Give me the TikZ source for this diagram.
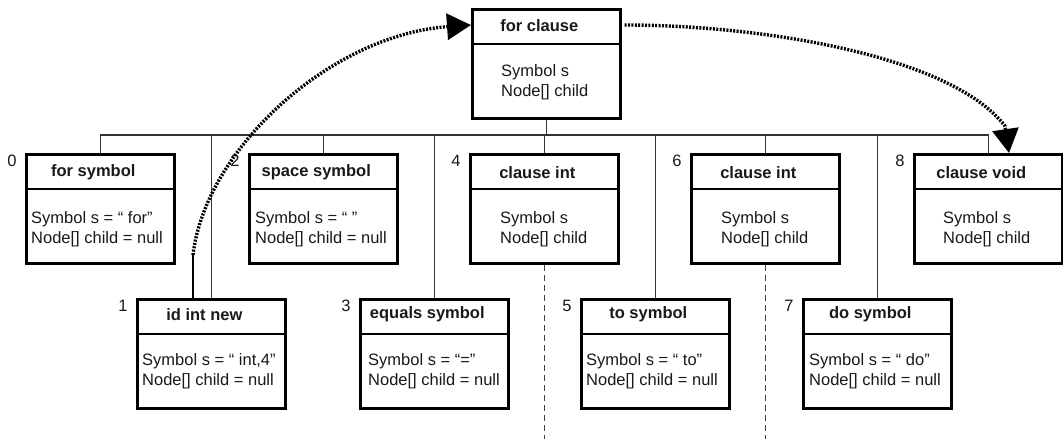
\documentclass[tikz,border=0pt]{standalone}
\usepackage{fontspec}
\setmainfont{Liberation Sans}
\usetikzlibrary{arrows.meta,calc}

% A class box: name, top-left corner, title, body lines, body inset, index,
% vertical nudge of the texts
\newcommand\ClassBox[7]{%
  \node[umlbox] (#1) at (#2) {};
  \draw[divider] ($(#1.north west)+(0,36)$) -- ($(#1.north east)+(0,36)$);
  \node[title] (#1-title) at ($(#1.north)+(-7,17.5+#7)$) {#3};
  \node[body] (#1-body) at ($(#1.north west)+(#5,74+#7)$) {#4};
  \node[idx] (#1-idx) at ($(#1.north west)+(-13,8)$) {#6};%
}

\begin{document}
\begin{tikzpicture}[x=1pt,y=-1pt,
  umlbox/.style={draw=black, line width=2.6pt, rectangle, minimum width=148pt,
    minimum height=109pt, inner sep=0pt, anchor=north west},
  divider/.style={line width=2.4pt},
  title/.style={font=\bfseries\fontsize{16.5}{20}\selectfont, inner sep=0pt, text=black!90},
  body/.style={font=\fontsize{16.5}{20}\selectfont, align=left, anchor=west,
    inner sep=0pt, text=black!90},
  idx/.style={font=\fontsize{16.5}{20}\selectfont, inner sep=0pt, text=black!90},
  bus/.style={draw=black!80, line width=1.2pt},
  dashline/.style={draw=black!75, line width=1pt, dash pattern=on 6pt off 4pt},
  flow/.style={draw=black, line width=3.4pt, dash pattern=on 2pt off 1.4pt,
    -{Triangle[length=24pt,width=26pt]}},
]
\useasboundingbox (0,0) rectangle (1063,439);

% parent node
\ClassBox{fc}{471,8}{for clause}{Symbol s\\Node[] child}{30}{}{0}

% children, upper row
\ClassBox{b0}{25,153}{for symbol}{Symbol s = “ for”\\Node[] child = null}{6}{0}{2}
\ClassBox{b2}{248,153}{space symbol}{Symbol s = “ ”\\Node[] child = null}{7}{2}{2}
\ClassBox{b4}{469,153}{clause int}{Symbol s\\Node[] child}{31}{4}{2}
\ClassBox{b6}{690,153}{clause int}{Symbol s\\Node[] child}{31}{6}{2}
\ClassBox{b8}{913,153}{clause void}{Symbol s\\Node[] child}{30}{8}{2}

% children, lower row
\ClassBox{b1}{136,298}{id int new}{Symbol s = “ int,4”\\Node[] child = null}{6}{1}{-1}
\ClassBox{b3}{359,298}{equals symbol}{Symbol s = “=”\\Node[] child = null}{9}{3}{-1}
\ClassBox{b5}{580,298}{to symbol}{Symbol s = “ to”\\Node[] child = null}{6}{5}{-1}
\ClassBox{b7}{802,298}{do symbol}{Symbol s = “ do”\\Node[] child = null}{7}{7}{-1}

% tree bus
\coordinate (busy) at (0,135);
\draw[bus] (fc.south) -- (fc.south |- busy);
\draw[bus] (b0.north) -- (b0.north |- busy) -- (b8.north |- busy) -- (b8.north);
\foreach \n in {b1,b2,b3,b4,b5,b6,b7}
  \draw[bus] (\n.north) -- (\n.north |- busy);

% subtrees continuing below
\draw[dashline] (b4.south) -- (b4.south |- 0,439);
\draw[dashline] (b6.south) -- (b6.south |- 0,439);

% flow arrows
\coordinate (b1-src) at ($(b1.north west)+(57,0)$);
\coordinate (bend) at ($(b1.north west)+(57,-43)$);
\coordinate (drop) at ($(b8.north west)+(92,-27)$);
\draw[line width=2pt] (b1-src) -- (bend);
\draw[flow] (bend) .. controls (205,150) and (330,35) .. ($(fc.north west)+(0,17)$);
\draw[flow] ($(fc.north east)+(3,17)$) .. controls (760,25) and (950,55) .. (drop)
  -- ($(b8.north west)+(96,0)$);
\end{tikzpicture}
\end{document}
